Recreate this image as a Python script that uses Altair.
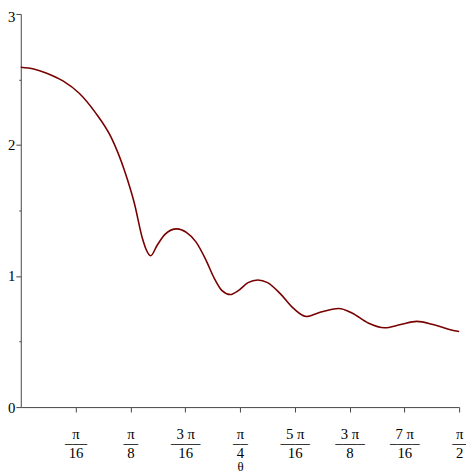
import json
import math
import altair as alt
import pandas as pd

# curve values
theta = [0.0000, 0.0464, 0.0929, 0.1511, 0.2094, 0.2674, 0.3257, 0.3721, 0.4070,
         0.4363, 0.4478, 0.4653, 0.4887, 0.5177, 0.5585, 0.5934, 0.6283, 0.6632,
         0.6922, 0.7212, 0.7505, 0.7795, 0.8144, 0.8493, 0.8842, 0.9306, 0.9774,
         1.0238, 1.0702, 1.1400, 1.1868, 1.2448, 1.3031, 1.3614, 1.4193, 1.4776,
         1.5359, 1.5708]
value = [2.593, 2.580, 2.548, 2.489, 2.395, 2.247, 2.050, 1.802, 1.556,
         1.284, 1.210, 1.155, 1.235, 1.320, 1.360, 1.333, 1.259, 1.124,
         0.988, 0.889, 0.859, 0.889, 0.950, 0.970, 0.950, 0.864, 0.753,
         0.691, 0.722, 0.753, 0.718, 0.642, 0.605, 0.630, 0.654, 0.630,
         0.593, 0.576]

# x tick labels (multiples of pi/16)
tick_k = [1, 2, 3, 4, 5, 6, 7, 8]
tick_num = ["π", "π", "3 π", "π", "5 π", "3 π", "7 π", "π"]
tick_den = ["16", "8", "16", "4", "16", "8", "16", "2"]

y_ticks = [0, 0.5, 1, 1.5, 2, 2.5, 3]

df = pd.DataFrame({"theta": theta, "value": value})
x_values = [k * math.pi / 16 for k in tick_k]

nums = json.dumps(tick_num, ensure_ascii=False)
dens = json.dumps(tick_den, ensure_ascii=False)
idx = "(round(datum.value * 16 / PI) - 1)"
label_expr = (
    f"[{nums}[{idx}], "
    f"(length({nums}[{idx}]) > 1 ? '––––' : (length({dens}[{idx}]) > 1 ? '–––' : '––')), "
    f"{dens}[{idx}]]"
)

FONT = "Liberation Serif"

chart = alt.Chart(df).mark_line(
    color="#780000", strokeWidth=1.6, interpolate="monotone"
).encode(
    x=alt.X(
        "theta:Q",
        scale=alt.Scale(domain=[0, math.pi / 2], nice=False, zero=False),
        axis=alt.Axis(
            values=x_values,
            labelExpr=label_expr,
            labelLineHeight=9.5,
            labelPadding=15,
            labelFontSize=15,
            labelFont=FONT,
            labelColor="black",
            labelOverlap=False,
            labelFlush=False,
            tickSize=5,
            tickColor="#444",
            domainColor="#444",
            grid=False,
            title="θ",
            titleFont=FONT,
            titleFontSize=13,
            titleFontWeight="normal",
            titleColor="black",
            titlePadding=1,
        ),
    ),
    y=alt.Y(
        "value:Q",
        scale=alt.Scale(domain=[0, 3], nice=False),
        axis=alt.Axis(
            values=y_ticks,
            labelExpr="datum.value % 1 === 0 ? format(datum.value, 'd') : ''",
            labelFontSize=15,
            labelFont=FONT,
            labelColor="black",
            labelPadding=1,
            labelOffset={"condition": {"test": "datum.value === 3", "value": 3}, "value": 0},
            tickSize={"condition": {"test": "datum.value % 1 !== 0", "value": 2}, "value": 5},
            tickColor="#444",
            domainColor="#444",
            grid=False,
            title=None,
        ),
    ),
).properties(
    width=446,
    height=400,
    autosize=alt.AutoSizeParams(type="none"),
    padding={"left": 13, "top": 2, "right": 7, "bottom": 64},
).configure_view(stroke=None)

chart.save("out.html", embed_options={"renderer": "svg", "actions": False})
